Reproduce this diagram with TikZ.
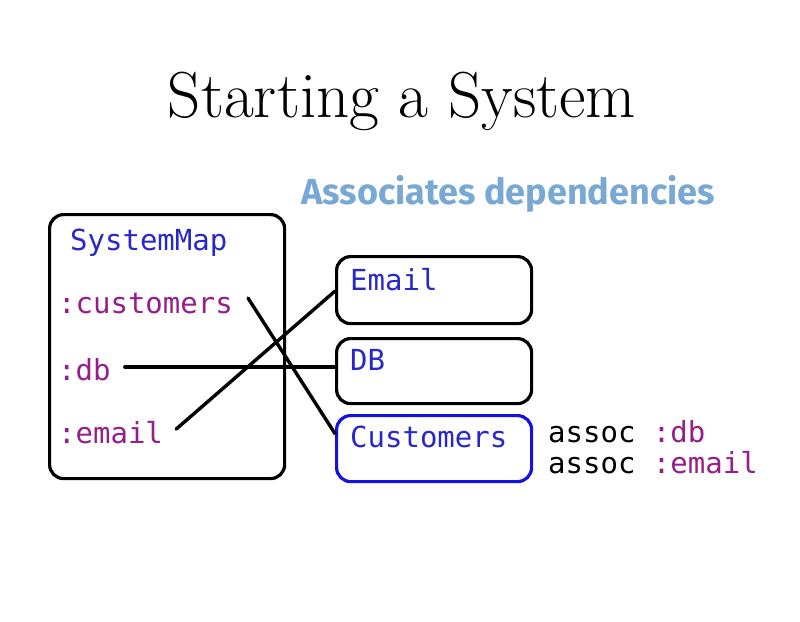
\documentclass[tikz,border=0pt]{standalone}
\usepackage{fontspec}
\newfontfamily\monof{DejaVu Sans Mono}
\newfontfamily\subf{Fira Sans}
\usetikzlibrary{calc}
\definecolor{kwblue}{RGB}{40,40,200}
\definecolor{sympurple}{RGB}{150,30,140}
\definecolor{subblue}{RGB}{120,168,212}
\definecolor{boxblue}{RGB}{20,20,220}
\begin{document}
\begin{tikzpicture}[x=1pt,y=-1pt,
  box/.style={draw=black, line width=3.2pt, rounded corners=14pt, inner sep=0pt, anchor=north west},
  code/.style={inner sep=0pt, anchor=base west, font=\monof\fontsize{29}{30}\selectfont},
  conn/.style={draw=black, line width=3.4pt, line cap=round}]
\useasboundingbox[fill=white] (0,0) rectangle (800,621);
% title
\node[inner sep=0pt, anchor=base, font=\fontsize{65}{65}\selectfont] (title) at (402,117) {Starting a System};
\node[inner sep=0pt, anchor=base, font=\subf\bfseries\fontsize{36}{36}\selectfont, text=subblue] (sub) at (508,204) {Associates dependencies};
% boxes
\node[box, minimum width=235pt, minimum height=264pt] (sysbox) at (48,213) {};
\node[box, minimum width=195pt, minimum height=67pt] (emailbox) at (335,255) {};
\node[box, minimum width=195pt, minimum height=65pt] (dbbox) at (335,337) {};
\node[box, draw=boxblue, minimum width=195pt, minimum height=66pt] (custbox) at (335,414) {};
% texts
\node[code, text=kwblue] (sysmap) at (70,250) {SystemMap};
\node[code, text=sympurple] (cust) at (58,313) {:customers};
\node[code, text=sympurple] (db) at (58,380) {:db};
\node[code, text=sympurple] (email) at (58,443) {:email};
\node[code, text=kwblue] (emailt) at (350,290) {Email};
\node[code, text=kwblue] (dbt) at (350,370) {DB};
\node[code, text=kwblue] (custt) at (350,447) {Customers};
\node[code] (a1) at (548,442) {assoc \textcolor{sympurple}{:db}};
\node[code] (a2) at (548,473) {assoc \textcolor{sympurple}{:email}};
% connectors
\draw[conn] ([xshift=15pt,yshift=5pt]cust.east) -- ([yshift=15pt]custbox.west);
\draw[conn] ([xshift=14pt]db.east |- 0,367) -- (dbbox.west |- 0,367);
\draw[conn] ([xshift=13pt,yshift=3pt]email.east) -- ([yshift=-1pt]emailbox.west);
\end{tikzpicture}
\end{document}
